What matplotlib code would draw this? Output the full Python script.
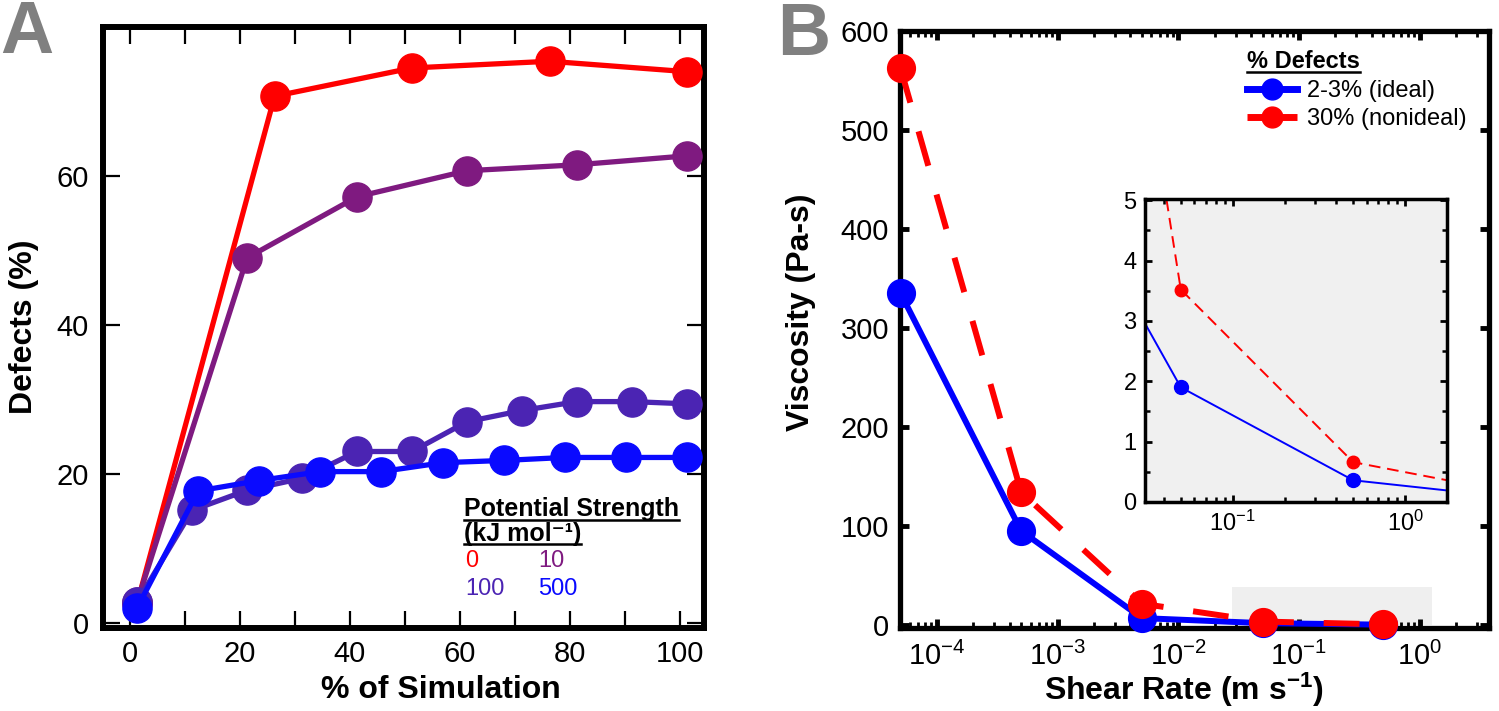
import matplotlib
matplotlib.use('Agg')
import matplotlib.pyplot as plt
from matplotlib.lines import Line2D
from matplotlib.patches import Rectangle
from matplotlib.ticker import FixedLocator, FixedFormatter, LogLocator, NullFormatter, MultipleLocator

plt.rcParams['font.family'] = ['Liberation Sans', 'DejaVu Sans']
plt.rcParams['mathtext.fontset'] = 'custom'
plt.rcParams['mathtext.rm'] = 'Liberation Sans'
plt.rcParams['mathtext.it'] = 'Liberation Sans:italic'
plt.rcParams['mathtext.bf'] = 'Liberation Sans:bold'

# ---------------- Panel A data ----------------
sim_x_0 = [0, 25, 50, 75, 100]
defects_0 = [2.6, 70.7, 74.5, 75.4, 74.0]
sim_x_10 = [0, 20, 40, 60, 80, 100]
defects_10 = [2.8, 49.0, 57.2, 60.7, 61.5, 62.7]
sim_x_100 = [0, 10, 20, 30, 40, 50, 60, 70, 80, 90, 100]
defects_100 = [2.8, 15.1, 17.8, 19.4, 23.0, 23.0, 27.0, 28.5, 29.7, 29.7, 29.4]
sim_x_500 = [0, 11.1, 22.2, 33.3, 44.4, 55.6, 66.7, 77.8, 88.9, 100]
defects_500 = [2.0, 17.7, 19.1, 20.3, 20.3, 21.5, 21.8, 22.2, 22.2, 22.2]
strength_labels = ['0', '10', '100', '500']
strength_colors = ['#ff0000', '#7f1a80', '#4b24b3', '#0a0aff']
a_xtick_labels = ['0', '', '20', '', '40', '', '60', '', '80', '', '100']
a_ytick_labels = ['0', '20', '40', '60']

# ---------------- Panel B data ----------------
shear_rate = [5e-5, 5e-4, 5e-3, 5e-2, 5e-1, 5.0]
visc_ideal = [335, 95, 7.0, 1.90, 0.36, 0.05]
visc_nonideal = [562, 134, 21.5, 3.52, 0.66, 0.11]
series_labels = ['2-3% (ideal)', '30% (nonideal)']
zoom_box_x = (0.028, 1.26)
zoom_box_y = (0, 38)

W, H = 1499, 711
fig = plt.figure(figsize=(W / 100, H / 100), dpi=100)

def fx(px):
    return px / W

def fy(py):
    return 1 - py / H

# ================= Panel A =================
axA = fig.add_axes([fx(102.5), fy(628), fx(704) - fx(102.5), fy(27) - fy(628)])
xs = [sim_x_0, sim_x_10, sim_x_100, sim_x_500]
ys = [defects_0, defects_10, defects_100, defects_500]
for x, y, c in zip(xs, ys, strength_colors):
    axA.plot(x, y, '-', color=c, lw=3.8, marker='o', ms=21, mec=c, mfc=c,
             clip_on=False, zorder=3)
axA.set_xlim(-6.3, 103.1)
axA.set_ylim(-0.7, 80)
axA.xaxis.set_major_locator(FixedLocator([-1.3 + 10 * k for k in range(11)]))
axA.xaxis.set_major_formatter(FixedFormatter(a_xtick_labels))
axA.yaxis.set_major_locator(FixedLocator([0, 20, 40, 60]))
axA.yaxis.set_major_formatter(FixedFormatter(a_ytick_labels))
for s in axA.spines.values():
    s.set_linewidth(4.3)
axA.tick_params(direction='in', length=12, width=1.6, top=True, right=True,
                labelsize=21, color='k')
axA.tick_params(axis='y', pad=10)
axA.tick_params(axis='x', pad=9)

fig.text(fx(441), fy(690), '% of Simulation', fontsize=23, fontweight='bold',
         ha='center', va='center')
fig.text(fx(24), fy(327), 'Defects (%)', fontsize=23, fontweight='bold',
         ha='center', va='center', rotation=90)
fig.text(fx(0), fy(53), 'A', fontsize=53, fontweight='bold', color='#808080',
         ha='left', va='baseline')

# legend-like text block
tA1 = fig.text(fx(464), fy(516), 'Potential Strength', fontsize=18, fontweight='bold',
               ha='left', va='baseline')
tA2 = fig.text(fx(464), fy(541), '(kJ mol\u207b\u00b9)', fontsize=18, fontweight='bold',
               ha='left', va='baseline')
num_pos = [(465, 567), (538, 567), (465, 595), (538, 595)]
for lab, c, (px, py) in zip(strength_labels, strength_colors, num_pos):
    fig.text(fx(px), fy(py), lab, fontsize=17, color=c, ha='left', va='baseline')

# ================= Panel B =================
axB = fig.add_axes([fx(900), fy(628), fx(1489) - fx(900), fy(30.5) - fy(628)])
n_main = 5
axB.add_patch(Rectangle((zoom_box_x[0], zoom_box_y[0]), zoom_box_x[1] - zoom_box_x[0],
                        zoom_box_y[1] - zoom_box_y[0], facecolor='#efefef',
                        edgecolor='none', zorder=0))
axB.plot(shear_rate[:n_main], visc_ideal[:n_main], '-', color='#0000ff', lw=4.3,
         marker='o', ms=20, clip_on=False, zorder=3)
lred, = axB.plot(shear_rate[:n_main], visc_nonideal[:n_main], '--', color='#ff0000', lw=4.3,
                 marker='o', ms=20, clip_on=False, zorder=4)
lred.set_dashes((6, 5))
axB.set_xscale('log')
axB.set_xlim(4.95e-5, 3.76)
axB.set_ylim(-3, 600)
axB.yaxis.set_major_locator(MultipleLocator(100))
axB.xaxis.set_major_locator(LogLocator(base=10, numticks=20))
axB.xaxis.set_minor_locator(LogLocator(base=10, subs=range(2, 10), numticks=20))
axB.xaxis.set_minor_formatter(NullFormatter())
for s in axB.spines.values():
    s.set_linewidth(3.8)
axB.tick_params(which='major', direction='in', length=6.5, width=3.5, top=True,
                right=True, labelsize=21)
axB.tick_params(which='minor', direction='in', length=4, width=2, top=True, right=True)
axB.tick_params(axis='y', pad=8)
axB.tick_params(axis='x', pad=10)

fig.text(fx(1184), fy(690), r'Shear Rate (m s$^{\mathbf{-1}}$)', fontsize=23,
         fontweight='bold', ha='center', va='center')
fig.text(fx(801), fy(312), 'Viscosity (Pa-s)', fontsize=23, fontweight='bold',
         ha='center', va='center', rotation=90)
fig.text(fx(777), fy(55), 'B', fontsize=53, fontweight='bold', color='#808080',
         ha='left', va='baseline')

# legend
tB = fig.text(fx(1247), fy(68), '% Defects', fontsize=17, fontweight='bold',
              ha='left', va='baseline')
h1 = Line2D([], [], color='#0000ff', lw=5, marker='o', ms=15)
h2 = Line2D([], [], color='#ff0000', lw=5, ls='--', marker='o', ms=15)
h2.set_dashes((3, 2))
axB.legend([h1, h2], series_labels, loc='upper left', bbox_to_anchor=(fx(1247), fy(80)),
           bbox_transform=fig.transFigure, frameon=False, fontsize=17,
           handlelength=2.1, handletextpad=0.45, labelspacing=0.25,
           borderpad=0, borderaxespad=0)

# ================= Inset =================
axI = fig.add_axes([fx(1145), fy(502), fx(1447) - fx(1145), fy(199) - fy(502)])
axI.set_facecolor('#f0f0f0')
axI.plot(shear_rate, visc_ideal, '-', color='#0000ff', lw=1.4, marker='o', ms=10)
lri, = axI.plot(shear_rate, visc_nonideal, '--', color='#ff0000', lw=1.4, marker='o', ms=9)
lri.set_dashes((6, 3.5))
axI.set_xscale('log')
axI.set_xlim(0.031, 1.75)
axI.set_ylim(0, 5.02)
axI.yaxis.set_major_locator(MultipleLocator(1))
axI.yaxis.set_minor_locator(MultipleLocator(0.5))
axI.xaxis.set_major_locator(LogLocator(base=10, numticks=20))
axI.xaxis.set_minor_locator(LogLocator(base=10, subs=range(2, 10), numticks=20))
axI.xaxis.set_minor_formatter(NullFormatter())
for s in axI.spines.values():
    s.set_linewidth(2.5)
axI.tick_params(which='major', direction='in', length=5, width=2, top=True, right=True,
                labelsize=17, pad=6)
axI.tick_params(which='minor', direction='in', length=3.5, width=1.8, top=True, right=True)

# underlines
fig.canvas.draw()
renderer = fig.canvas.get_renderer()
for t, ypx in [(tA1, 520), (tA2, 544), (tB, 72)]:
    bb = t.get_window_extent(renderer)
    fig.add_artist(Line2D([bb.x0 / W, bb.x1 / W], [fy(ypx), fy(ypx)],
                          transform=fig.transFigure, color='k', lw=1.8))

fig.savefig('out.png', dpi=100)
